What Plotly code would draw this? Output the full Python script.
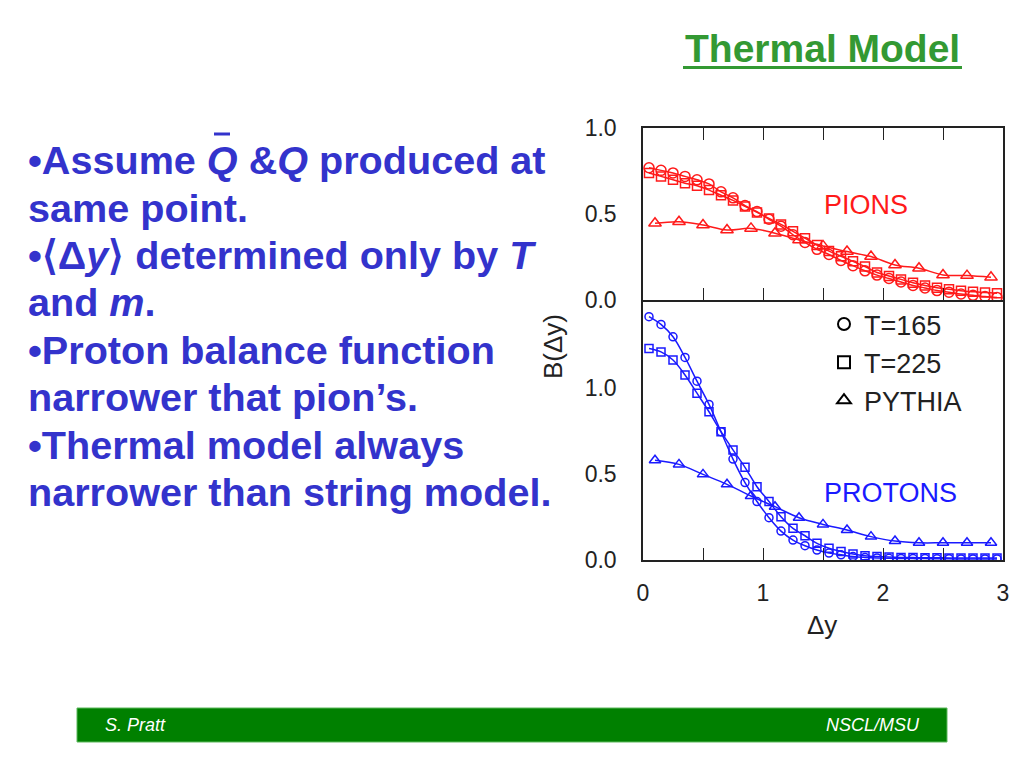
import plotly.graph_objects as go

# ---------------- data ----------------
x_thermal = [0.05, 0.15, 0.25, 0.35, 0.45, 0.55, 0.65, 0.75, 0.85, 0.95,
             1.05, 1.15, 1.25, 1.35, 1.45, 1.55, 1.65, 1.75, 1.85, 1.95,
             2.05, 2.15, 2.25, 2.35, 2.45, 2.55, 2.65, 2.75, 2.85, 2.95]
x_pythia = [0.1, 0.3, 0.5, 0.7, 0.9, 1.1, 1.3, 1.5, 1.7, 1.9, 2.1, 2.3, 2.5, 2.7, 2.9]

pion_T165 = [0.77, 0.755, 0.74, 0.72, 0.70, 0.676, 0.63, 0.595, 0.55, 0.515,
             0.47, 0.43, 0.38, 0.335, 0.295, 0.265, 0.23, 0.20, 0.17, 0.145,
             0.125, 0.105, 0.085, 0.07, 0.055, 0.045, 0.035, 0.027, 0.02, 0.015]
pion_T225 = [0.74, 0.72, 0.70, 0.68, 0.665, 0.64, 0.61, 0.58, 0.545, 0.51,
             0.475, 0.44, 0.40, 0.36, 0.32, 0.285, 0.255, 0.225, 0.195, 0.16,
             0.14, 0.12, 0.10, 0.085, 0.072, 0.062, 0.054, 0.048, 0.043, 0.04]
pion_pythia = [0.447, 0.456, 0.437, 0.408, 0.417, 0.389, 0.35, 0.315, 0.282, 0.253,
               0.204, 0.185, 0.146, 0.142, 0.132]

proton_T165 = [1.415, 1.37, 1.298, 1.178, 1.04, 0.905, 0.746, 0.587, 0.45, 0.34,
               0.246, 0.168, 0.116, 0.083, 0.058, 0.04, 0.03, 0.02, 0.015, 0.012,
               0.01, 0.009, 0.008, 0.008, 0.007, 0.007, 0.006, 0.006, 0.006, 0.006]
proton_T225 = [1.23, 1.21, 1.163, 1.076, 0.97, 0.862, 0.746, 0.64, 0.539, 0.426,
               0.34, 0.252, 0.184, 0.141, 0.097, 0.068, 0.05, 0.035, 0.025, 0.02,
               0.017, 0.015, 0.014, 0.013, 0.013, 0.012, 0.012, 0.012, 0.012, 0.012]
proton_pythia = [0.58, 0.556, 0.498, 0.44, 0.372, 0.31, 0.246, 0.207, 0.174, 0.136,
                 0.11, 0.1, 0.1, 0.1, 0.1]

legend_labels = ["T=165", "T=225", "PYTHIA"]
x_ticks = [0, 0.5, 1, 1.5, 2, 2.5, 3]
x_ticktext = ["0", "", "1", "", "2", "", "3"]
y_ticks = [0, 0.5, 1.0]
y_ticktext = ["0.0", "0.5", "1.0"]

bullet_lines = [
    "•Assume <i>Q</i> &amp;<i>Q</i> produced at",
    "same point.",
    "•⟨Δ<i>y</i>⟩ determined only by <i>T</i>",
    "and <i>m</i>.",
    "•Proton balance function",
    "narrower that pion’s.",
    "•Thermal model always",
    "narrower than string model.",
]

# ---------------- layout helpers ----------------
W, H = 1024, 768
def px(xp):
    return xp / W
def py(yp):
    return 1 - yp / H

RED = "#ff1a1a"
BLUE = "#1a1aff"
TEXTBLUE = "#3333cc"
GREEN = "#339933"
FONT = "Liberation Sans, Arial, sans-serif"
AXC = "#222"

fig = go.Figure()

def add_series(x, y, symbol, color, size, xa, ya):
    fig.add_trace(go.Scatter(
        x=x, y=y, mode="lines+markers", xaxis=xa, yaxis=ya,
        line=dict(color=color, width=1.5, shape="spline"),
        marker=dict(symbol=symbol, size=size, color=color,
                    line=dict(color=color, width=1.5)),
        showlegend=False, hoverinfo="skip"))

add_series(x_thermal, pion_T165, "circle-open", RED, 10, "x", "y")
add_series(x_thermal, pion_T225, "square-open", RED, 9, "x", "y")
add_series(x_pythia, pion_pythia, "triangle-up-open", RED, 11, "x", "y")
add_series(x_thermal, proton_T165, "circle-open", BLUE, 8, "x2", "y2")
add_series(x_thermal, proton_T225, "square-open", BLUE, 8, "x2", "y2")
add_series(x_pythia, proton_pythia, "triangle-up-open", BLUE, 10, "x2", "y2")

for lab, sym in zip(legend_labels, ["circle-open", "square-open", "triangle-up-open"]):
    fig.add_trace(go.Scatter(
        x=[None], y=[None], mode="markers", xaxis="x2", yaxis="y2", name=lab,
        marker=dict(symbol=sym, size=8, color="black", line=dict(color="black", width=1.5)),
        showlegend=True))

xdom = [px(643), px(1003)]
frame = dict(showline=True, linecolor=AXC, linewidth=1.5, showgrid=False,
             zeroline=False)
tickfont = dict(size=23, family=FONT, color=AXC)
hidden = dict(showline=False, showgrid=False, zeroline=False, showticklabels=False,
              tickcolor=AXC, tickwidth=1.3)

fig.update_layout(
    width=W, height=H,
    margin=dict(l=0, r=0, t=0, b=0, autoexpand=False),
    paper_bgcolor="white", plot_bgcolor="white",
    font=dict(family=FONT, color=AXC),
    # upper panel
    xaxis=dict(domain=xdom, anchor="y", range=[0, 3], tickvals=x_ticks,
               ticks="inside", ticklen=12, tickcolor=AXC, tickwidth=1.3,
               mirror="ticks", showticklabels=False, **frame),
    yaxis=dict(domain=[py(300), py(128.3)], anchor="x", range=[0, 1.0],
               tickvals=y_ticks, ticktext=y_ticktext, ticks="",
               ticklabelstandoff=20, mirror=True, tickfont=tickfont, **frame),
    yaxis3=dict(overlaying="y", anchor="x", side="right", range=[0, 1.0],
                tickvals=[0.25, 0.5, 0.75], ticks="inside", ticklen=10, **hidden),
    # lower panel
    xaxis2=dict(domain=xdom, anchor="y2", range=[0, 3], tickvals=x_ticks,
                ticktext=x_ticktext, ticks="inside", ticklen=12,
                tickcolor=AXC, tickwidth=1.3, mirror=False,
                ticklabelstandoff=12, tickfont=tickfont, **frame),
    xaxis3=dict(overlaying="x2", anchor="y2", side="top", range=[0, 3],
                tickvals=x_ticks, ticks="inside", ticklen=12, **hidden),
    yaxis2=dict(domain=[py(560), py(300)], anchor="x2", range=[0, 1.512],
                tickvals=y_ticks, ticktext=y_ticktext, ticks="",
                ticklabelstandoff=20, mirror=True, tickfont=tickfont, **frame),
    yaxis4=dict(overlaying="y2", anchor="x2", side="right", range=[0, 1.512],
                tickvals=[0.25, 0.5, 0.75, 1.0, 1.25], ticks="inside", ticklen=10,
                **hidden),
    legend=dict(x=px(824), y=py(300), xanchor="left", yanchor="top",
                bgcolor="rgba(0,0,0,0)", font=dict(size=27, family=FONT, color=AXC),
                itemsizing="constant"),
)

ann = []
# chart labels
ann.append(dict(text="PIONS", x=1.49, y=0.553, xref="x", yref="y", xanchor="left",
                yanchor="middle", showarrow=False, font=dict(size=27, color=RED, family=FONT)))
ann.append(dict(text="PROTONS", x=1.49, y=0.39, xref="x2", yref="y2", xanchor="left",
                yanchor="middle", showarrow=False, font=dict(size=27, color=BLUE, family=FONT)))
ann.append(dict(text="Δy", x=px(822), y=py(625), xref="paper", yref="paper",
                xanchor="center", yanchor="middle", showarrow=False,
                font=dict(size=26, color=AXC, family=FONT)))
ann.append(dict(text="B(Δy)", x=px(553), y=py(347), xref="paper", yref="paper",
                xanchor="center", yanchor="middle", textangle=-90, showarrow=False,
                font=dict(size=26, color=AXC, family=FONT)))
# slide title
ann.append(dict(text="<b>Thermal Model</b>", x=px(822), y=py(48), xref="paper", yref="paper",
                xanchor="center", yanchor="middle", showarrow=False,
                font=dict(size=39, color=GREEN, family=FONT)))
# bullet text
centers = [160, 208, 255, 302, 350, 397, 445, 492]
for t, c in zip(bullet_lines, centers):
    ann.append(dict(text="<b>" + t + "</b>", x=px(26), y=py(c), xref="paper", yref="paper",
                    xanchor="left", yanchor="middle", showarrow=False,
                    font=dict(size=39.6, color=TEXTBLUE, family=FONT)))
# footer
footfont = dict(size=18, color="white", family="Liberation Sans Narrow, Liberation Sans")
ann.append(dict(text="<i>S. Pratt</i>", x=px(103), y=py(725), xref="paper", yref="paper",
                xanchor="left", yanchor="middle", showarrow=False, font=footfont))
ann.append(dict(text="<i>NSCL/MSU</i>", x=px(922), y=py(725), xref="paper", yref="paper",
                xanchor="right", yanchor="middle", showarrow=False, font=footfont))
fig.update_layout(annotations=ann)

shapes = [
    dict(type="rect", xref="paper", yref="paper", x0=px(77), x1=px(947), y0=py(742), y1=py(708),
         fillcolor="#008000", line=dict(color="#5cb85c", width=1), layer="below"),
    dict(type="line", xref="paper", yref="paper", x0=px(683), x1=px(962), y0=py(67.5), y1=py(67.5),
         line=dict(color=GREEN, width=3)),
    dict(type="line", xref="paper", yref="paper", x0=px(214), x1=px(230), y0=py(134), y1=py(134),
         line=dict(color=TEXTBLUE, width=3)),
]
fig.update_layout(shapes=shapes)

fig.write_html("out.html", config={"displayModeBar": False},
               post_script="document.body.style.margin='0';document.body.style.overflow='hidden';")
